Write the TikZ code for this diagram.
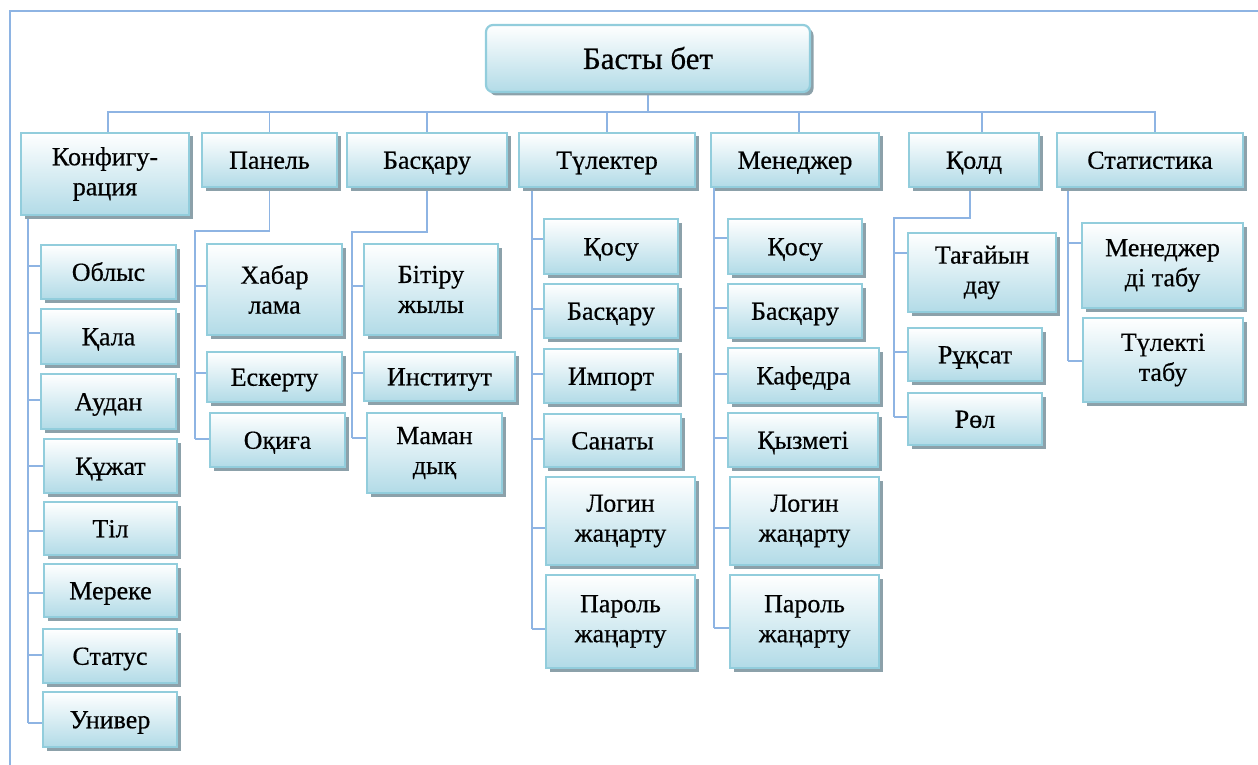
\documentclass[tikz,border=0pt]{standalone}
\usepackage{fontspec}
\setmainfont{Liberation Serif}
\newfontfamily\boxfont{Liberation Serif}[FakeBold=0.5]
\usetikzlibrary{shadows,backgrounds}

\definecolor{boxedge}{RGB}{146,205,220}
\definecolor{boxlow}{RGB}{178,219,231}
\definecolor{boxshadow}{RGB}{140,161,170}
\definecolor{wire}{RGB}{142,180,227}

\tikzset{
  cbox/.style={rectangle, draw=boxedge, line width=2.2pt,
    top color=white, bottom color=boxlow,
    drop shadow={shadow xshift=3.5pt, shadow yshift=-3.5pt, fill=boxshadow, opacity=1},
    inner sep=0pt, align=center, text=black,
    font=\boxfont\fontsize{26}{30}\selectfont},
  one/.style={text height=17.5pt, text depth=0pt},
  conn/.style={draw=wire, line width=1.6pt},
}

% box: [options]{name}{x1}{y1}{x2}{y2}{text}
\newcommand\bx[7][]{%
  \node[cbox, minimum width={(#5-#3)*1pt}, minimum height={(#6-#4)*1pt}, #1]
    (#2) at ({(#3+#5)/2},{(#4+#6)/2}) {#7};}
% branch from a trunk at x=#1, height y=#2, to the west side of node #3
\newcommand\br[3]{\draw[conn] (#1,#2) -- (#3.west |- #1,#2);}

\begin{document}
\begin{tikzpicture}[x=1pt, y=-1pt]
\useasboundingbox (0,0) rectangle (1258,765);

% root
\bx[one, rounded corners=7pt, font=\boxfont\fontsize{31}{36}\selectfont, text height=21pt]{top}{486}{25}{810}{92}{Басты бет}

% first level
\bx{k1}{21}{133}{189}{215}{Конфигу-\\рация}
\bx[one]{k2}{202}{133}{337}{187}{Панель}
\bx[one]{k3}{347}{133}{507}{187}{Басқару}
\bx[one]{k4}{519}{133}{695}{187}{Түлектер}
\bx[one]{k5}{711}{133}{879}{187}{Менеджер}
\bx[one]{k6}{909}{133}{1039}{187}{Қолд}
\bx[one]{k7}{1057}{133}{1243}{187}{Статистика}

% configuration
\bx[one]{a1}{41}{245}{176}{299}{Облыс}
\bx[one]{a2}{41}{309}{176}{364}{Қала}
\bx[one]{a3}{41}{374}{176}{429}{Аудан}
\bx[one]{a4}{44}{439}{177}{493}{Құжат}
\bx[one]{a5}{44}{502}{177}{555}{Тіл}
\bx[one]{a6}{44}{564}{177}{617}{Мереке}
\bx[one]{a7}{43}{629}{177}{683}{Статус}
\bx[one]{a8}{43}{692}{177}{747}{Универ}

% panel
\bx{b1}{207}{244}{342}{335}{Хабар\\лама}
\bx[one]{b2}{207}{352}{342}{402}{Ескерту}
\bx[one]{b3}{210}{413}{345}{467}{Оқиға}

% management
\bx{c1}{364}{244}{498}{335}{Бітіру\\жылы}
\bx[one]{c2}{364}{352}{515}{401}{Институт}
\bx{c3}{367}{413}{502}{493}{Маман\\дық}

% graduates
\bx[one]{d1}{544}{219}{678}{274}{Қосу}
\bx[one]{d2}{544}{284}{678}{338}{Басқару}
\bx[one]{d3}{544}{349}{678}{403}{Импорт}
\bx[one]{d4}{544}{414}{681}{467}{Санаты}
\bx{d5}{546}{477}{695}{565}{Логин\\жаңарту}
\bx{d6}{546}{575}{695}{668}{Пароль\\жаңарту}

% manager
\bx[one]{e1}{728}{219}{862}{274}{Қосу}
\bx[one]{e2}{728}{284}{862}{338}{Басқару}
\bx[one]{e3}{728}{348}{879}{403}{Кафедра}
\bx[one]{e4}{728}{413}{878}{467}{Қызметі}
\bx{e5}{730}{477}{879}{565}{Логин\\жаңарту}
\bx{e6}{730}{575}{879}{668}{Пароль\\жаңарту}

% access
\bx{f1}{908}{233}{1056}{312}{Тағайын\\дау}
\bx[one]{f2}{908}{328}{1042}{381}{Рұқсат}
\bx[one]{f3}{908}{393}{1042}{445}{Рөл}

% statistics
\bx{g1}{1082}{223}{1243}{308}{Менеджер\\ді табу}
\bx{g2}{1083}{318}{1243}{402}{Түлекті\\табу}

\begin{pgfonlayer}{background}
  % frame
  \draw[conn] (10,765) -- (10,11) -- (1258,11);

  % root to first level
  \draw[conn] (top.south) -- ++(0,19) coordinate (bus);
  \draw[conn] (bus) -| ([xshift=3pt]k1.north);
  \draw[conn] (bus) -| (k2.north);
  \draw[conn] (bus) -| (k3.north);
  \draw[conn] (bus) -| (k4.north);
  \draw[conn] (bus) -| ([xshift=4pt]k5.north);
  \draw[conn] (bus) -| ([xshift=8pt]k6.north);
  \draw[conn] (bus) -| ([xshift=5pt]k7.north);

  % configuration
  \draw[conn] (k1.south -| 28,0) -- (28,723);
  \br{28}{266}{a1} \br{28}{333}{a2} \br{28}{400}{a3} \br{28}{466}{a4}
  \br{28}{531}{a5} \br{28}{593}{a6} \br{28}{655}{a7} \br{28}{723}{a8}

  % panel
  \draw[conn] (k2.south) |- (195,231) -- (195,439);
  \br{195}{286}{b1} \br{195}{373}{b2} \br{195}{439}{b3}

  % management
  \draw[conn] (k3.south) |- (352,232) -- (352,438);
  \br{352}{286}{c1} \br{352}{373}{c2} \br{352}{438}{c3}

  % graduates
  \draw[conn] (k4.south -| 532,0) -- (532,629);
  \br{532}{239}{d1} \br{532}{309}{d2} \br{532}{374}{d3}
  \br{532}{439}{d4} \br{532}{528}{d5} \br{532}{629}{d6}

  % manager
  \draw[conn] (k5.south -| 714,0) -- (714,628);
  \br{714}{238}{e1} \br{714}{308}{e2} \br{714}{374}{e3}
  \br{714}{438}{e4} \br{714}{528}{e5} \br{714}{628}{e6}

  % access
  \draw[conn] ([xshift=-4pt]k6.south) |- (894,218) -- (894,417);
  \br{894}{253}{f1} \br{894}{352}{f2} \br{894}{417}{f3}

  % statistics
  \draw[conn] (k7.south -| 1068,0) -- (1068,361);
  \br{1068}{243}{g1} \br{1068}{361}{g2}
\end{pgfonlayer}
\end{tikzpicture}
\end{document}
